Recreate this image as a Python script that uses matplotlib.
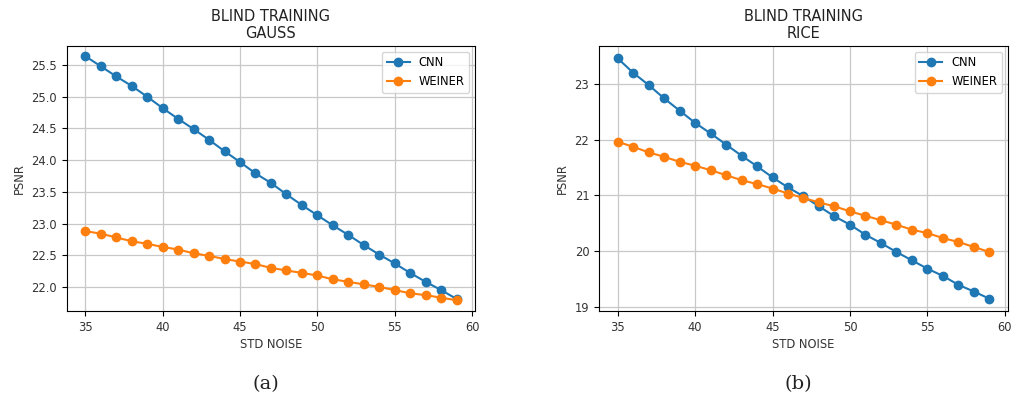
import numpy as np
from matplotlib import pyplot as plt

# уровни шума (std)
std_noise = list(range(35, 60))

# PSNR, слепое обучение, гауссов шум
gauss_cnn = [25.64, 25.48, 25.32, 25.17, 25.00, 24.82, 24.65, 24.49, 24.32, 24.14,
             23.97, 23.79, 23.64, 23.46, 23.29, 23.13, 22.97, 22.82, 22.66, 22.51,
             22.37, 22.22, 22.08, 21.95, 21.81]
gauss_weiner = [22.88, 22.84, 22.78, 22.72, 22.68, 22.63, 22.59, 22.53, 22.49, 22.44,
                22.40, 22.36, 22.30, 22.26, 22.22, 22.18, 22.12, 22.08, 22.04, 22.00,
                21.95, 21.90, 21.87, 21.83, 21.79]

# PSNR, слепое обучение, шум Райса
rice_cnn = [23.46, 23.20, 22.98, 22.74, 22.52, 22.30, 22.11, 21.91, 21.71, 21.52,
            21.32, 21.14, 20.98, 20.80, 20.62, 20.47, 20.29, 20.14, 19.98, 19.83,
            19.68, 19.55, 19.39, 19.27, 19.14]
rice_weiner = [21.96, 21.87, 21.77, 21.69, 21.60, 21.53, 21.45, 21.36, 21.27, 21.20,
               21.12, 21.03, 20.95, 20.87, 20.80, 20.71, 20.63, 20.55, 20.47, 20.38,
               20.32, 20.23, 20.16, 20.07, 19.98]

panels = [("BLIND TRAINING\nGAUSS", gauss_cnn, gauss_weiner, "(a)"),
          ("BLIND TRAINING\nRICE", rice_cnn, rice_weiner, "(b)")]

fig = plt.figure(figsize=(10.11, 4.0), dpi=100)
boxes = [[0.066, 0.2225, 0.404, 0.6625], [0.5925, 0.2225, 0.4045, 0.6625]]

for box, (title, cnn, weiner, cap) in zip(boxes, panels):
    ax = fig.add_axes(box)
    ax.plot(std_noise, cnn, 'o-', color='#1f77b4', markersize=6, linewidth=1.5, label="CNN")
    ax.plot(std_noise, weiner, 'o-', color='#ff7f0e', markersize=6, linewidth=1.5, label="WEINER")
    ax.set_title(title, fontsize=10.5, color='#222222', pad=6, linespacing=1.1)
    ax.set_xlabel("STD NOISE", fontsize=8.3, color='#333333', labelpad=3)
    ax.set_ylabel("PSNR", fontsize=8.3, color='#333333', labelpad=4)
    ax.tick_params(labelsize=8.3, labelcolor='#333333')
    ax.set_xticks([35, 40, 45, 50, 55, 60])
    ax.set_xlim(33.8, 60.2)
    ax.grid(True, color='#c8c8c8', linewidth=0.9)
    ax.legend(loc='upper right', fontsize=8.3)
    x0 = box[0] + box[2] / 2
    fig.text(x0 - 0.005, 0.04, cap, ha='center', va='center', fontsize=14,
             family='DejaVu Serif', color='#222222')

fig.axes[0].set_ylim(21.62, 25.8)
fig.axes[1].set_ylim(18.92, 23.68)
fig.axes[1].set_yticks([19, 20, 21, 22, 23])

plt.savefig("out.png", dpi=100)
